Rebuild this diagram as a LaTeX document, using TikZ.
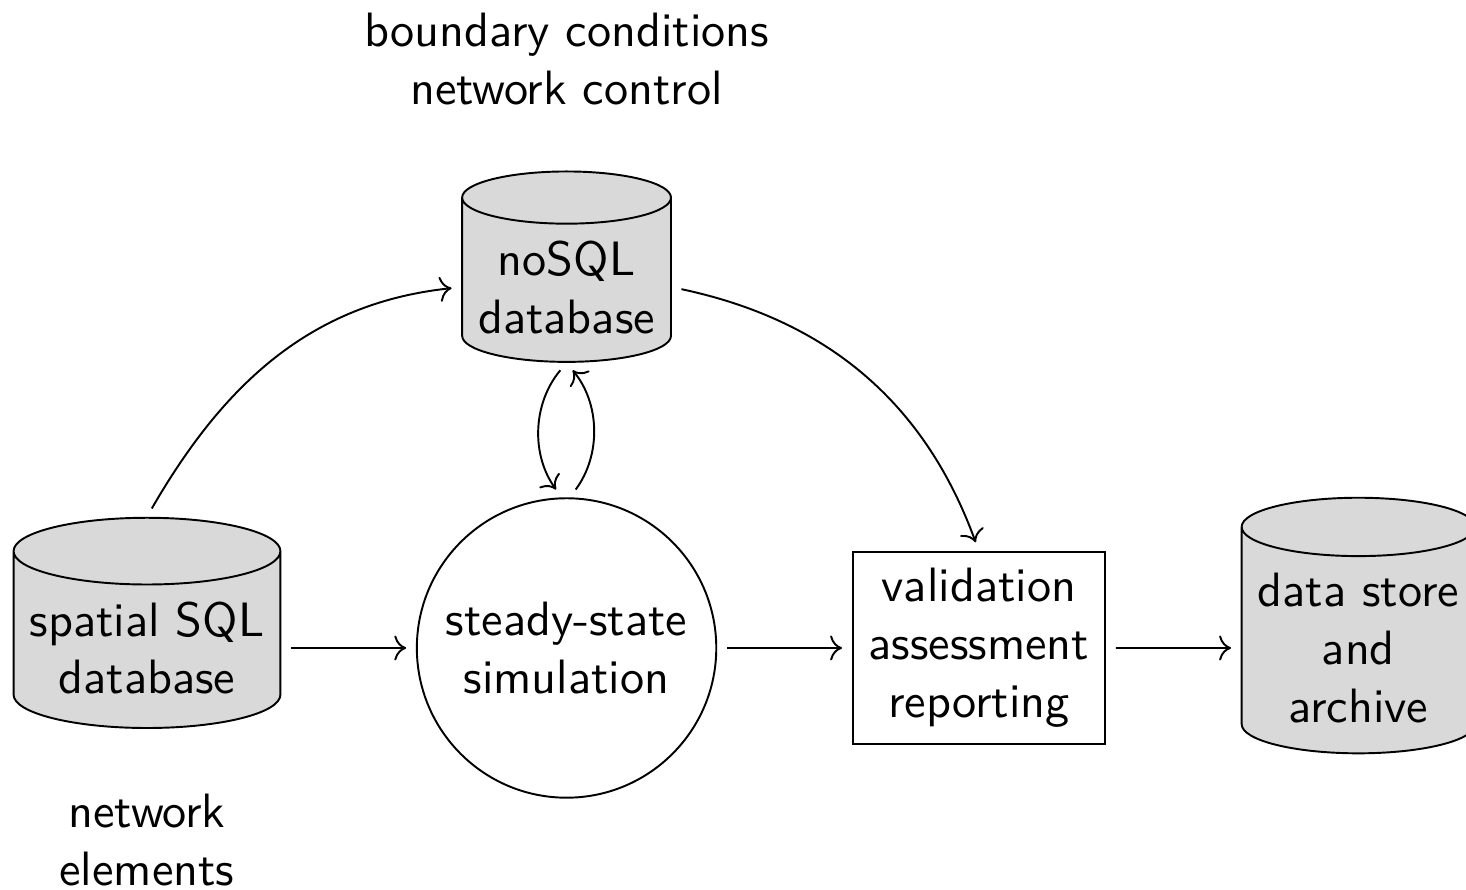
\documentclass[tikz,border=0pt]{standalone}
\usepackage{fontspec}
\usepackage{tikz}
\usetikzlibrary{shapes.geometric, arrows.meta, positioning}

\begin{document}
\begin{tikzpicture}[
    x=0.2074pt, y=-0.2074pt,
    node distance=0.98cm,
    dbase/.style={cylinder, shape border rotate=90, aspect=0.25, draw, fill=gray!30, align=center, font=\sffamily},
    simnode/.style={circle, draw, align=center, font=\sffamily},
    report/.style={rectangle, draw, align=center, font=\sffamily},
    note/.style={align=center, font=\sffamily},
    arrow/.style={-To, shorten >=2pt, shorten <=2pt}
]
\useasboundingbox (0,0) rectangle (1466,890);

% Main row
\node[dbase] (sql) at (147,648) {spatial SQL\\database};
\node[simnode, right=of sql] (sim) {steady-state\\simulation};
\node[report, right=of sim] (val) {validation\\assessment\\reporting};
\node[dbase, right=of val] (store) {data store\\and\\archive};

% Top store and notes
\node[dbase, above=of sim] (nosql) {noSQL\\database};
\node[note, above=10pt of nosql] (bc) {boundary conditions\\network control};
\node[note, below=10pt of sql] (ne) {network\\elements};

% Connectors
\draw[arrow] (sql) -- (sim);
\draw[arrow] (sim) -- (val);
\draw[arrow] (val) -- (store);

\draw[arrow] (sql.north) to[out=60, in=186] (nosql.west);
\draw[arrow] (nosql.east) to[out=-12, in=110] (val.north);
\draw[arrow] (nosql.south) to[bend right=38] ([xshift=-1pt]sim.north);
\draw[arrow] ([xshift=0.7pt]sim.north) to[bend right=38] (nosql.south);

\end{tikzpicture}
\end{document}
